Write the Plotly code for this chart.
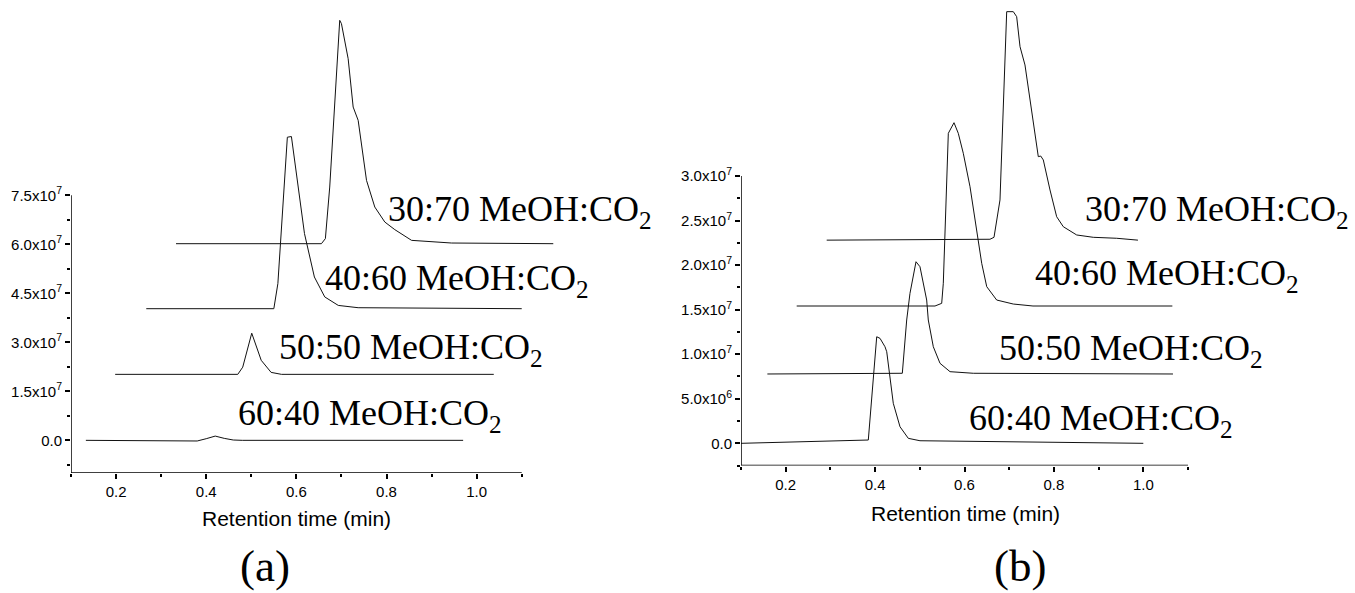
import plotly.graph_objects as go

W, H = 1355, 593

# ---------------- data: panel (a) ----------------
a_6040_x = [0.133, 0.36, 0.38, 0.40, 0.42, 0.44, 0.46, 0.48, 0.970]
a_6040_y = [0, 0, -2e5, 5e5, 1.3e6, 6e5, 1e5, 0, 0]

a_5050_x = [0.198, 0.470, 0.481, 0.501, 0.522, 0.544, 0.567, 1.038]
a_5050_y = [2.02e7, 2.02e7, 2.24e7, 3.28e7, 2.45e7, 2.08e7, 2.02e7, 2.02e7]

a_4060_x = [0.267, 0.550, 0.559, 0.580, 0.589, 0.593, 0.618, 0.640, 0.663, 0.693, 0.737, 1.100]
a_4060_y = [4.03e7, 4.03e7, 4.80e7, 9.28e7, 9.30e7, 8.88e7, 6.33e7, 5.0e7, 4.39e7, 4.13e7, 4.06e7, 4.03e7]

a_3070_x = [0.333, 0.6556, 0.6644, 0.674, 0.6962, 0.700, 0.7149, 0.726, 0.7371, 0.7556,
            0.774, 0.7962, 0.8184, 0.8556, 0.9444, 1.170]
a_3070_y = [6.02e7, 6.02e7, 6.175e7, 7.754e7, 1.2857e8, 1.2756e8, 1.1684e8, 1.0203e8, 9.796e7, 7.959e7,
            7.142e7, 6.683e7, 6.45e7, 6.122e7, 6.04e7, 6.02e7]

# ---------------- data: panel (b) ----------------
b_6040_x = [0.1, 0.3848, 0.4036, 0.411, 0.4221, 0.426, 0.4407, 0.4557, 0.4743, 0.5004, 1.0]
b_6040_y = [0, 3.7e5, 1.196e7, 1.178e7, 1.084e7, 1.028e7, 4.49e6, 1.86e6, 5.6e5, 2.9e5, 0]

b_5050_x = [0.159, 0.4609, 0.4707, 0.478, 0.4915, 0.5004, 0.5154, 0.519, 0.5302, 0.5452, 0.5676, 0.6197, 1.0664]
b_5050_y = [7.78e6, 7.86e6, 1.384e7, 1.683e7, 2.038e7, 1.982e7, 1.608e7, 1.384e7, 1.084e7, 8.98e6, 8.04e6, 7.86e6, 7.78e6]

b_4060_x = [0.2246, 0.534, 0.549, 0.5526, 0.5638, 0.5765, 0.5861, 0.5973, 0.6123, 0.6273,
            0.6385, 0.6497, 0.672, 0.7092, 0.7532, 1.065]
b_4060_y = [1.541e7, 1.541e7, 1.571e7, 1.796e7, 3.479e7, 3.598e7, 3.479e7, 3.255e7, 2.88e7, 2.357e7,
            2.02e7, 1.758e7, 1.608e7, 1.563e7, 1.541e7, 1.541e7]

b_3070_x = [0.2917, 0.657, 0.666, 0.6794, 0.6944, 0.7092, 0.7167, 0.7242, 0.7353, 0.7465, 0.7651,
            0.7705, 0.7763, 0.7913, 0.8062, 0.821, 0.851, 0.8881, 0.9405, 0.988]
b_3070_y = [2.28e7, 2.29e7, 2.312e7, 2.731e7, 4.844e7, 4.844e7, 4.788e7, 4.451e7, 4.246e7, 3.853e7, 3.217e7,
            3.224e7, 3.18e7, 2.843e7, 2.543e7, 2.431e7, 2.338e7, 2.312e7, 2.301e7, 2.28e7]

series_labels = ["30:70 MeOH:CO<sub>2</sub>", "40:60 MeOH:CO<sub>2</sub>",
                 "50:50 MeOH:CO<sub>2</sub>", "60:40 MeOH:CO<sub>2</sub>"]

x_tickvals = [0.2, 0.4, 0.6, 0.8, 1.0]
x_ticktext = ["0.2", "0.4", "0.6", "0.8", "1.0"]
x_minorvals = [0.1, 0.3, 0.5, 0.7, 0.9, 1.1]

a_ytickvals = [0, 1.5e7, 3.0e7, 4.5e7, 6.0e7, 7.5e7]
a_yticktext = ["0.0", "1.5x10<sup>7</sup>", "3.0x10<sup>7</sup>", "4.5x10<sup>7</sup>",
               "6.0x10<sup>7</sup>", "7.5x10<sup>7</sup>"]
a_yminorvals = [-7.5e6, 7.5e6, 2.25e7, 3.75e7, 5.25e7, 6.75e7]

b_ytickvals = [0, 5e6, 1e7, 1.5e7, 2e7, 2.5e7, 3e7]
b_yticktext = ["0.0", "5.0x10<sup>6</sup>", "1.0x10<sup>7</sup>", "1.5x10<sup>7</sup>",
               "2.0x10<sup>7</sup>", "2.5x10<sup>7</sup>", "3.0x10<sup>7</sup>"]
b_yminorvals = [-2.5e6, 2.5e6, 7.5e6, 1.25e7, 1.75e7, 2.25e7, 2.75e7]

# ---------------- figure ----------------
def px(x):
    return x / W

def py(y):
    return 1 - y / H

fig = go.Figure()
line = dict(color="#111111", width=1)
for xs, ys in [(a_3070_x, a_3070_y), (a_4060_x, a_4060_y), (a_5050_x, a_5050_y), (a_6040_x, a_6040_y)]:
    fig.add_trace(go.Scatter(x=xs, y=ys, mode="lines", line=line, xaxis="x", yaxis="y",
                             showlegend=False, hoverinfo="skip"))
for xs, ys in [(b_3070_x, b_3070_y), (b_4060_x, b_4060_y), (b_5050_x, b_5050_y), (b_6040_x, b_6040_y)]:
    fig.add_trace(go.Scatter(x=xs, y=ys, mode="lines", line=line, xaxis="x2", yaxis="y2",
                             showlegend=False, hoverinfo="skip"))

tickfont = dict(family="Liberation Sans, Arial, sans-serif", size=15, color="black")
common_x = dict(showgrid=False, zeroline=False, showline=False, ticks="outside", ticklen=5, tickwidth=1.5,
                tickcolor="black", tickvals=x_tickvals, ticktext=x_ticktext, tickfont=tickfont,
                minor=dict(tickvals=x_minorvals, ticks="outside", ticklen=3, tickwidth=1.5, tickcolor="black"))
common_y = dict(showgrid=False, zeroline=False, showline=False, ticks="outside", ticklen=5, tickwidth=1.5,
                tickcolor="black", tickfont=tickfont)

fig.update_layout(
    width=W, height=H, margin=dict(l=0, r=0, t=0, b=0),
    paper_bgcolor="white", plot_bgcolor="white",
    xaxis=dict(domain=[px(71), px(566.8)], range=[0.1, 1.2], anchor="y", **common_x),
    yaxis=dict(domain=[py(473), 1.0], range=[-1e7, 1.348e8], anchor="x",
               tickvals=a_ytickvals, ticktext=a_yticktext,
               minor=dict(tickvals=a_yminorvals, ticks="outside", ticklen=3, tickwidth=1.5, tickcolor="black"),
               **common_y),
    xaxis2=dict(domain=[px(741), px(1188)], range=[0.1, 1.1], anchor="y2", **common_x),
    yaxis2=dict(domain=[py(465.6), 1.0], range=[-2.5e6, 4.975e7], anchor="x2",
                tickvals=b_ytickvals, ticktext=b_yticktext,
                minor=dict(tickvals=b_yminorvals, ticks="outside", ticklen=3, tickwidth=1.5, tickcolor="black"),
                **common_y),
)

# axis lines (frame only over the drawn axis extent)
ax_line = dict(color="black", width=1.5)
fig.add_shape(type="line", xref="x", yref="y", x0=0.1, x1=1.1, y0=-1e7, y1=-1e7, line=ax_line, layer="above")
fig.add_shape(type="line", xref="x", yref="y", x0=0.1, x1=0.1, y0=-1e7, y1=7.5e7, line=ax_line, layer="above")
fig.add_shape(type="line", xref="x2", yref="y2", x0=0.1, x1=1.1, y0=-2.5e6, y1=-2.5e6, line=ax_line, layer="above")
fig.add_shape(type="line", xref="x2", yref="y2", x0=0.1, x1=0.1, y0=-2.5e6, y1=3.0e7, line=ax_line, layer="above")

serif = dict(family="Liberation Serif, Times New Roman, serif", size=36, color="black")
label_pos_a = [(386, 211.7), (323.3, 280.8), (277.3, 349), (236, 415)]
label_pos_b = [(1083.3, 211.7), (1033.3, 275.8), (996.7, 350.5), (966.7, 420.8)]
for text, (lx, ly) in zip(series_labels, label_pos_a):
    fig.add_annotation(x=px(lx), y=py(ly), xref="paper", yref="paper", text=text, showarrow=False,
                       xanchor="left", yanchor="middle", font=serif)
for text, (lx, ly) in zip(series_labels, label_pos_b):
    fig.add_annotation(x=px(lx), y=py(ly), xref="paper", yref="paper", text=text, showarrow=False,
                       xanchor="left", yanchor="middle", font=serif)

title_font = dict(family="Liberation Sans, Arial, sans-serif", size=21, color="black")
fig.add_annotation(x=px(296), y=py(518), xref="paper", yref="paper", text="Retention time (min)",
                   showarrow=False, xanchor="center", yanchor="middle", font=title_font)
fig.add_annotation(x=px(965), y=py(513), xref="paper", yref="paper", text="Retention time (min)",
                   showarrow=False, xanchor="center", yanchor="middle", font=title_font)

panel_font = dict(family="Liberation Serif, Times New Roman, serif", size=45, color="black")
fig.add_annotation(x=px(265), y=py(566), xref="paper", yref="paper", text="(a)",
                   showarrow=False, xanchor="center", yanchor="middle", font=panel_font)
fig.add_annotation(x=px(1020), y=py(566), xref="paper", yref="paper", text="(b)",
                   showarrow=False, xanchor="center", yanchor="middle", font=panel_font)

fig.write_html("out.html")
